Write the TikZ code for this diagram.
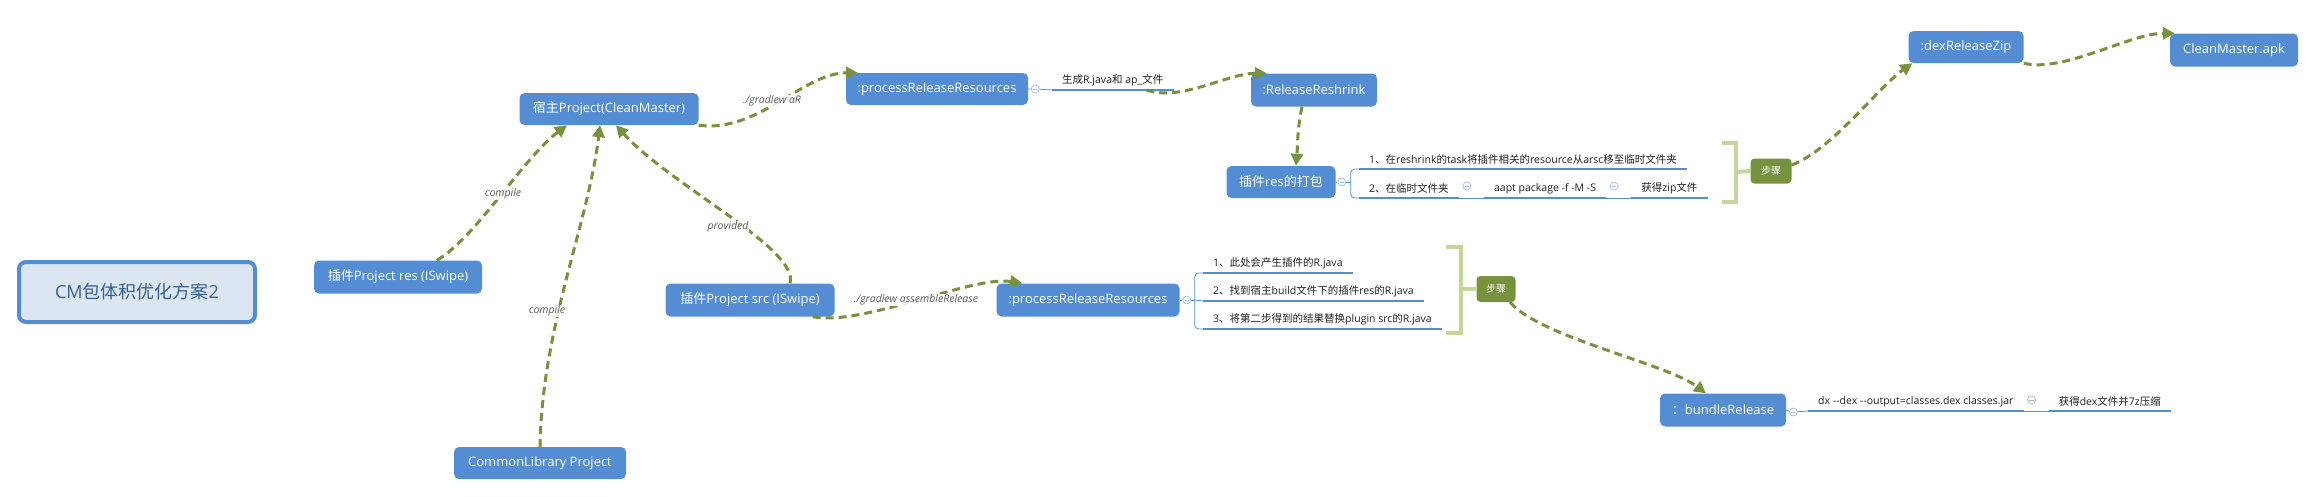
\documentclass[tikz,border=0pt]{standalone}
\usepackage{fontspec}
\setmainfont{Open Sans}[Ligatures=TeXOff]
\newfontfamily\cjk{Noto Sans CJK SC}
\newcommand\zh[1]{{\cjk #1}}
\usetikzlibrary{arrows.meta}

\definecolor{topicblue}{RGB}{84,141,212}
\definecolor{flowgreen}{RGB}{118,146,60}
\definecolor{summarygreen}{RGB}{195,214,155}
\definecolor{rootfill}{RGB}{220,230,242}
\definecolor{roottext}{RGB}{54,96,146}
\definecolor{labelgray}{RGB}{89,89,89}
\definecolor{foldblue}{RGB}{157,187,230}

\tikzset{
	topic/.style={fill=topicblue, text=white, rounded corners=5pt, inner sep=0pt, font=\fontsize{13}{15}\selectfont},
	roottopic/.style={topic, fill=rootfill, draw=topicblue, line width=4pt, rounded corners=7pt, text=roottext, font=\fontsize{18}{20}\selectfont},
	steptag/.style={fill=flowgreen, text=white, rounded corners=4pt, inner sep=0pt, font=\cjk\fontsize{10}{12}\selectfont},
	subtopic/.style={anchor=south west, inner xsep=10pt, inner ysep=4pt, text=black!88, font=\fontsize{10.5}{12}\selectfont},
	uline/.style={draw=topicblue, line width=2.6pt},
	joint/.style={draw=topicblue, line width=0.8pt},
	fold/.style={circle, draw=foldblue, fill=white, line width=0.7pt, minimum size=8pt, inner sep=0pt,
		path picture={\draw[foldblue, line width=0.7pt] ([xshift=-2.2pt]path picture bounding box.center) -- ([xshift=2.2pt]path picture bounding box.center);}},
	flow/.style={draw=flowgreen, line width=3pt, dash pattern=on 8pt off 5pt, -{Triangle[length=12pt,width=12pt]}},
	flowlabel/.style={text=labelgray, fill=white, fill opacity=0.85, text opacity=1, inner sep=1pt, font=\itshape\fontsize{10.5}{12}\selectfont},
	summary/.style={draw=summarygreen, line width=4pt}
}

\begin{document}
\begin{tikzpicture}[x=1pt, y=-1pt]
	\useasboundingbox (0,0) rectangle (2315,496);

	% Узлы
	\node[roottopic, minimum width=236pt, minimum height=60pt] (root) at (137,292) {CM\zh{包体积优化方案}2};
	\node[topic, minimum width=179pt, minimum height=32pt] (host) at (609,109) {\zh{宿主}Project(CleanMaster)};
	\node[topic, minimum width=168pt, minimum height=33pt] (res) at (398,277) {\zh{插件}Project res (ISwipe)};
	\node[topic, minimum width=172pt, minimum height=32pt] (common) at (540,463) {CommonLibrary Project};
	\node[topic, minimum width=169pt, minimum height=33pt] (src) at (750,300) {\zh{插件}Project src (ISwipe)};
	\node[topic, minimum width=182pt, minimum height=32pt] (prrtop) at (937,89) {:processReleaseResources};
	\node[topic, minimum width=126pt, minimum height=33pt] (reshrink) at (1314,90) {:ReleaseReshrink};
	\node[topic, minimum width=109pt, minimum height=32pt] (pack) at (1281,182) {\zh{插件}res\zh{的打包}};
	\node[topic, minimum width=183pt, minimum height=33pt] (prrbot) at (1088,300) {:processReleaseResources};
	\node[topic, minimum width=126pt, minimum height=33pt] (bundle) at (1723,410) {\zh{：}bundleRelease};
	\node[topic, minimum width=115pt, minimum height=32pt] (dexzip) at (1966,47) {:dexReleaseZip};
	\node[topic, minimum width=128pt, minimum height=33pt] (apk) at (2234,50) {CleanMaster.apk};

	\node[steptag, minimum width=41pt, minimum height=25pt] (tagres) at (1771,171) {步骤};
	\node[steptag, minimum width=39pt, minimum height=26pt] (tagsrc) at (1496,289) {步骤};

	% Подпункты
	\node[subtopic] (gen) at (1052,90) {\zh{生成}R.java\zh{和} ap\_\zh{文件}};
	\node[subtopic] (pk1) at (1359,169) {1\zh{、在}reshrink\zh{的}task\zh{将插件相关的}resource\zh{从}arsc\zh{移至临时文件夹}};
	\node[subtopic] (pk2) at (1359,198) {2\zh{、在临时文件夹}};
	\node[subtopic] (pk3) at ([xshift=25pt]pk2.south east) {aapt package -f -M -S};
	\node[subtopic] (pk4) at ([xshift=25pt]pk3.south east) {\zh{获得}zip\zh{文件}};
	\node[subtopic] (sr1) at (1203,273) {1\zh{、此处会产生插件的}R.java};
	\node[subtopic] (sr2) at (1203,301) {2\zh{、找到宿主}build\zh{文件下的插件}res\zh{的}R.java};
	\node[subtopic] (sr3) at (1203,329) {3\zh{、将第二步得到的结果替换}plugin src\zh{的}R.java};
	\node[subtopic] (dx1) at (1808,411) {dx --dex --output=classes.dex classes.jar};
	\node[subtopic] (dx2) at ([xshift=25pt]dx1.south east) {\zh{获得}dex\zh{文件并}7z\zh{压缩}};

	\foreach \n in {gen,pk1,pk2,pk3,pk4,sr1,sr2,sr3,dx1,dx2}
		\draw[uline] (\n.south west) -- (\n.south east);

	% Кнопки сворачивания
	\node[fold] (fgen) at ([xshift=7pt]prrtop.east) {};
	\node[fold] (fpack) at ([xshift=6pt]pack.east) {};
	\node[fold] (fpk2) at ([xshift=8pt,yshift=12pt]pk2.south east) {};
	\node[fold] (fpk3) at ([xshift=8pt,yshift=12pt]pk3.south east) {};
	\node[fold] (fprr) at ([xshift=7pt]prrbot.east) {};
	\node[fold] (fbundle) at ([xshift=7pt,yshift=-2pt]bundle.east) {};
	\node[fold] (fdx1) at ([xshift=8pt,yshift=11pt]dx1.south east) {};

	\draw[joint] (prrtop.east) -- (fgen) -- (gen.south west);
	\draw[joint] (pack.east) -- (fpack) -- ([xshift=9pt]fpack.center);
	\draw[joint, rounded corners=4pt] (pk1.south west) -| ([xshift=9pt]fpack.center) |- (pk2.south west);
	\draw[joint] (pk2.south east) -- (pk3.south west);
	\draw[joint] (pk3.south east) -- (pk4.south west);
	\draw[joint] (prrbot.east) -- (fprr) -- ([xshift=8pt]fprr.center);
	\draw[joint, rounded corners=4pt] (sr1.south west) -| ([xshift=8pt]fprr.center) |- (sr3.south west);
	\draw[joint] ([xshift=8pt]fprr.center) -- (sr2.south west);
	\draw[joint] (bundle.east) -- (fbundle) -- (dx1.south west);
	\draw[joint] (dx1.south east) -- (dx2.south west);

	% Скобки "步骤"
	\draw[summary] (1722,143) -- (1736,143) -- (1736,202) -- (1722,202);
	\draw[summary] (1736,172) -- (tagres.west);
	\draw[summary] (1446,247) -- (1461,247) -- (1461,333) -- (1446,333);
	\draw[summary] (1461,289) -- (tagsrc.west);

	% Связи
	\draw[flow] ([xshift=39pt]res.north) .. controls +(40,-24) and +(-45,34) .. ([xshift=-42pt]host.south);
	\draw[flow] (common.north) .. controls +(2,-120) and +(-12,100) .. ([xshift=-9pt]host.south);
	\draw[flow] ([xshift=40pt]src.north) .. controls +(10,-34) and +(54,60) .. ([xshift=7pt]host.south);
	\draw[flow] (host.south east) .. controls +(60,8) and +(-55,0) .. ([xshift=12pt]prrtop.north west);
	\draw[flow] ([xshift=-27pt]gen.south east) .. controls +(35,12) and +(-40,0) .. ([xshift=16pt]reshrink.north west);
	\draw[flow] ([xshift=-12pt]reshrink.south) .. controls +(-5,25) and +(2,-25) .. ([xshift=15pt]pack.north);
	\draw[flow] ([xshift=-22pt]src.south east) .. controls +(50,10) and +(-50,-8) .. ([xshift=26pt]prrbot.north west);
	\draw[flow] ([yshift=6pt]tagres.east) .. controls +(40,-15) and +(-35,25) .. ([xshift=4pt]dexzip.south west);
	\draw[flow] (dexzip.south east) .. controls +(40,10) and +(-45,0) .. ([xshift=5pt]apk.north west);
	\draw[flow] ([xshift=14pt]tagsrc.south) .. controls +(30,35) and +(-40,-30) .. ([xshift=-17pt]bundle.north);

	% Подписи связей
	\node[flowlabel] (lbcompilea) at (503,194) {compile};
	\node[flowlabel] (lbcompileb) at (547,311) {compile};
	\node[flowlabel] (lbprovided) at (728,227) {provided};
	\node[flowlabel] (lbgradle) at (772,101) {./gradlew aR};
	\node[flowlabel] (lbassemble) at (916,300) {./gradlew assembleRelease};
\end{tikzpicture}
\end{document}
